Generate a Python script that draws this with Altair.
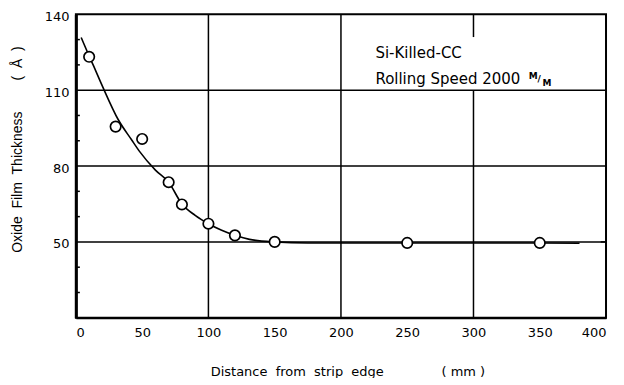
import altair as alt
import pandas as pd

# measured points (open circles)
pt_x = [10, 30, 50, 70, 80, 100, 120, 150, 250, 350]
pt_y = [123.2, 95.6, 90.7, 73.6, 64.8, 57.2, 52.6, 50.0, 49.6, 49.6]

# hand-drawn fitted curve
curve_x = [4, 10, 13, 20, 32, 42, 48, 60, 70, 80, 90, 100, 110, 120, 131, 150, 175, 250, 350, 380]
curve_y = [130.8, 123.5, 120.0, 111.6, 98.3, 90.4, 85.8, 78.4, 73.6, 65.0, 60.5, 57.2, 54.6, 52.6,
           51.0, 50.0, 49.6, 49.6, 49.6, 49.5]

x_ticks = [0, 50, 100, 150, 200, 250, 300, 350, 400]
y_labels = [50, 80, 110, 140]
minor_y = [30, 40, 60, 70, 90, 100, 120, 130]

FONT = "DejaVu Sans"
TFONT = "Liberation Sans"
NB = "\u00a0"

xs = alt.Scale(domain=[0, 400], nice=False, zero=False)
ys = alt.Scale(domain=[20, 140], nice=False, zero=False)

pts = pd.DataFrame({"x": pt_x, "y": pt_y})
crv = pd.DataFrame({"x": curve_x, "y": curve_y})

xaxis = alt.Axis(values=x_ticks, tickSize=0, domainWidth=2, domainColor="black",
                 labelFontSize=13, labelPadding=9, labelColor="black", labelFont=FONT,
                 grid=False,
                 title="Distance" + NB * 2 + "from" + NB * 2 + "strip" + NB * 2 + "edge" + NB * 14
                       + "(" + NB + "mm" + NB + ")",
                 titleFont=FONT, titleFontSize=13, titleFontWeight="normal", titleColor="black",
                 titleX=272, titleY=54, titleBaseline="middle")
yaxis = alt.Axis(values=y_labels, tickSize=0, domainWidth=3, domainColor="black",
                 labelFontSize=13, labelPadding=7, labelColor="black", labelFont=FONT,
                 labelOffset=2, grid=False,
                 title="Oxide" + NB * 2 + "Film" + NB * 2 + "Thickness" + NB * 8 + "(" + NB * 2 + "Å"
                       + NB * 2 + ")",
                 titleFont=TFONT, titleFontSize=14, titleFontWeight="normal", titleColor="black",
                 titleX=-58, titleY=135, titleBaseline="middle", titleAngle=-90)

# grid lines
hgrid = pd.DataFrame({"y": [50, 80, 110], "x1": [0, 0, 0], "x2": [400, 400, 400]})
vgrid = pd.DataFrame({"x": [100, 200, 300, 300], "y1": [20, 20, 20, 131], "y2": [140, 140, 110, 140]})
minor = pd.DataFrame({"y": minor_y + [50], "x1": [0] * len(minor_y) + [396],
                      "x2": [3] * len(minor_y) + [400]})

base_x = alt.X("x:Q", scale=xs, axis=xaxis)
base_y = alt.Y("y:Q", scale=ys, axis=yaxis)

hg = alt.Chart(hgrid).mark_rule(color="black", strokeWidth=1.5).encode(
    x=alt.X("x1:Q", scale=xs, axis=xaxis), x2="x2:Q", y=alt.Y("y:Q", scale=ys, axis=yaxis))
vg = alt.Chart(vgrid).mark_rule(color="black", strokeWidth=1.5).encode(
    x=alt.X("x:Q", scale=xs), y=alt.Y("y1:Q", scale=ys), y2="y2:Q")
mt = alt.Chart(minor).mark_rule(color="black", strokeWidth=1.5).encode(
    x=alt.X("x1:Q", scale=xs), x2="x2:Q", y=alt.Y("y:Q", scale=ys))

line = alt.Chart(crv).mark_line(color="black", strokeWidth=1.6, interpolate="monotone").encode(
    x=base_x, y=base_y)
circ = alt.Chart(pts).mark_point(shape="circle", size=110, filled=False, fill="white",
                                 fillOpacity=1, stroke="black", strokeWidth=1.7, opacity=1).encode(
    x=alt.X("x:Q", scale=xs), y=alt.Y("y:Q", scale=ys))

ann = pd.DataFrame({"x": [226, 226], "y": [124.6, 114.4],
                    "t": ["Si-Killed-CC", "Rolling Speed 2000"]})
txt = alt.Chart(ann).mark_text(align="left", baseline="middle", font=FONT, fontSize=15,
                               color="black").encode(
    x=alt.X("x:Q", scale=xs), y=alt.Y("y:Q", scale=ys), text="t:N")

unit = pd.DataFrame({"x": [345, 349.5, 355.5], "y": [115.6, 114.4, 112.8], "t": ["M", "/", "M"]})
utxt = alt.Chart(unit).mark_text(align="center", baseline="middle", font=FONT, fontSize=9,
                                 fontWeight="bold", color="black").encode(
    x=alt.X("x:Q", scale=xs), y=alt.Y("y:Q", scale=ys), text="t:N")

chart = alt.layer(hg, vg, mt, line, circ, txt, utxt).properties(
    width=531, height=304,
    autosize=alt.AutoSizeParams(type="none"),
    padding={"left": 68, "top": 6, "right": 10, "bottom": 60},
    background="white",
).configure_view(stroke="black", strokeWidth=2)

chart.save("out.html", embed_options={"renderer": "svg", "actions": False})
